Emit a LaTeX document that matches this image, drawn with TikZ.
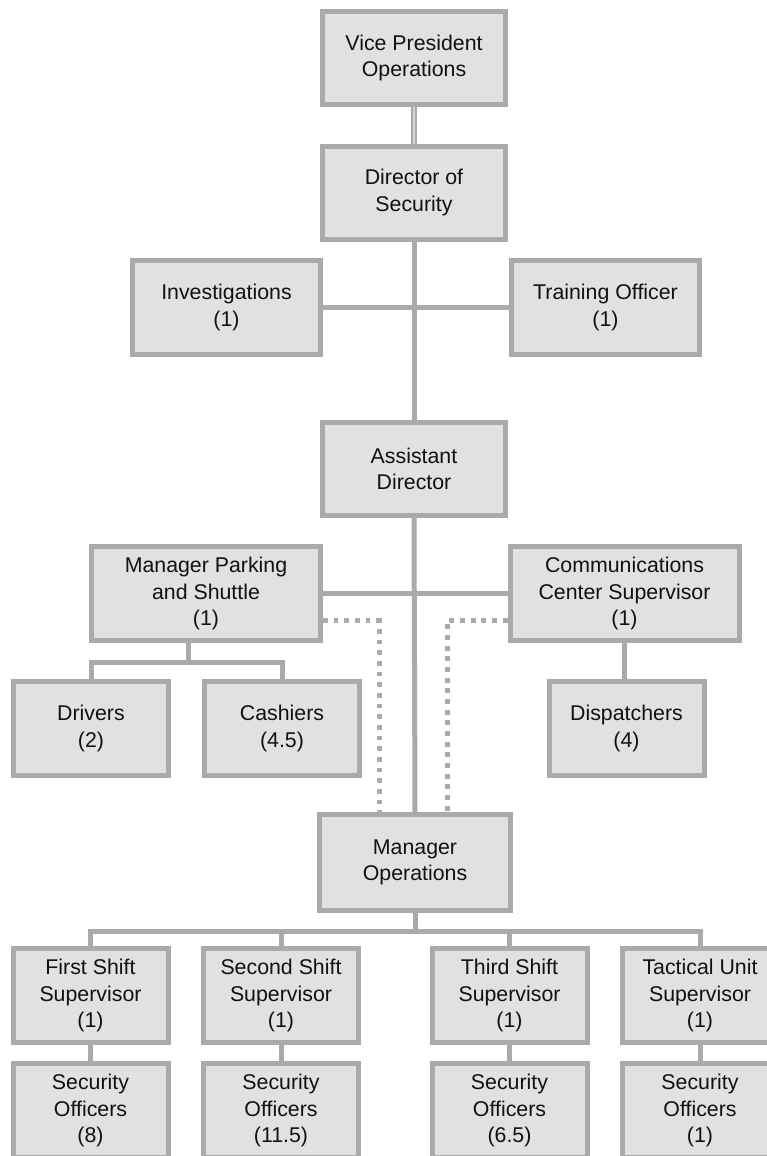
\documentclass[tikz,border=0pt]{standalone}
\usepackage{fontspec}
\setmainfont{Liberation Sans}
\definecolor{linegray}{HTML}{AAAAAA}
\definecolor{lightline}{HTML}{D4D4D4}
\definecolor{boxfill}{HTML}{E1E1E1}
\definecolor{txt}{HTML}{111111}
\begin{document}
\begin{tikzpicture}[x=0.75pt,y=-0.75pt,
  box/.style={draw=linegray, fill=boxfill, line width=3.75pt, align=center,
    font=\fontsize{16}{20}\selectfont, text=txt, inner sep=0pt},
  bigbox/.style={box, minimum width=137.25pt, minimum height=69.75pt},
  sidebox/.style={box, minimum width=141pt, minimum height=70.5pt},
  midbox/.style={box, minimum width=171.75pt, minimum height=70.5pt},
  smallbox/.style={box, minimum width=116.25pt, minimum height=70.5pt},
  conn/.style={draw=linegray, line width=3.75pt, line join=miter},
  dotconn/.style={draw=linegray, line width=3.75pt, dash pattern=on 3.6pt off 4.4pt},
  dblconn/.style={draw=linegray, line width=1.1pt, double=lightline, double distance=1.6pt}]
\clip (0,0) rectangle (767,1156);
\fill[white] (0,0) rectangle (767,1156);

% nodes
\node[bigbox] (vp) at (414,58) {Vice President\\Operations};
\node[bigbox] (dir) at (414,192.5) {Director of\\Security};
\node[sidebox] (inv) at (226.5,307.5) {Investigations\\(1)};
\node[sidebox] (tr) at (605.5,307.5) {Training Officer\\(1)};
\node[bigbox] (ad) at (414,469) {Assistant\\Director};
\node[midbox] (mp) at (206,593.5) {Manager Parking\\and Shuttle\\(1)};
\node[midbox] (cc) at (624.5,593.5) {Communications\\Center Supervisor\\(1)};
\node[smallbox] (drv) at (91,728.5) {Drivers\\(2)};
\node[smallbox] (cas) at (282,728.5) {Cashiers\\(4.5)};
\node[smallbox] (dis) at (626.5,728.5) {Dispatchers\\(4)};
\node[box, minimum width=143.25pt, minimum height=72pt] (mo) at (415,862.5) {Manager\\Operations};
\node[smallbox] (s1) at (90.5,995.5) {First Shift\\Supervisor\\(1)};
\node[smallbox] (s2) at (281,995.5) {Second Shift\\Supervisor\\(1)};
\node[smallbox] (s3) at (509.5,995.5) {Third Shift\\Supervisor\\(1)};
\node[smallbox] (s4) at (700,995.5) {Tactical Unit\\Supervisor\\(1)};
\node[smallbox] (o1) at (90.5,1110.5) {Security\\Officers\\(8)};
\node[smallbox] (o2) at (281,1110.5) {Security\\Officers\\(11.5)};
\node[smallbox] (o3) at (509.5,1110.5) {Security\\Officers\\(6.5)};
\node[smallbox] (o4) at (700,1110.5) {Security\\Officers\\(1)};

\coordinate (bus1) at (188,662);
\coordinate (bus2) at (415,931);

% connectors
\draw[dblconn] (vp.south) -- (dir.north);
\draw[conn] (dir.south) -- (ad.north);
\draw[conn] (inv.east) -- (tr.west);
\draw[conn] (ad.south) -- (mo.north);
\draw[conn] (mp.east) -- (cc.west);
\draw[dotconn] ([yshift=-20.6pt]mp.east) -| ([xshift=-27pt]mo.north);
\draw[dotconn] ([yshift=-20.6pt]cc.west) -| ([xshift=24pt]mo.north);
\draw[conn] (mp.south -| bus1) -- (bus1);
\draw[conn] (drv.north) -- (drv.north |- bus1) -- (cas.north |- bus1) -- (cas.north);
\draw[conn] (cc.south) -- (cc.south |- dis.north);
\draw[conn] (mo.south) -- (bus2);
\draw[conn] (s1.north) -- (s1.north |- bus2) -- (s4.north |- bus2) -- (s4.north);
\draw[conn] (s2.north) -- (s2.north |- bus2);
\draw[conn] (s3.north) -- (s3.north |- bus2);
\draw[conn] (s1.south) -- (o1.north);
\draw[conn] (s2.south) -- (o2.north);
\draw[conn] (s3.south) -- (o3.north);
\draw[conn] (s4.south) -- (o4.north);
\end{tikzpicture}
\end{document}
